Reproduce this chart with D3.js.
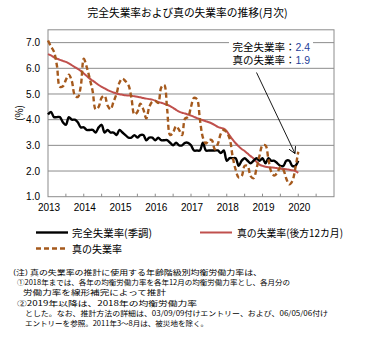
<!DOCTYPE html>
<html><head><meta charset="utf-8">
<script src="https://cdn.jsdelivr.net/npm/d3@7"></script>
<style>
html,body{margin:0;padding:0;background:#fff;}
svg{display:block;}
text{font-family:"Noto Sans CJK JP","Liberation Sans",sans-serif;}
.num{font-family:"Liberation Sans","DejaVu Sans",sans-serif;}
</style></head>
<body>
<svg id="chart" width="365" height="351"></svg>
<script>
// ---- data (monthly, Jan 2013 .. Jan 2020) ----
const startYear = 2013;
const yearLabels = ["2013","2014","2015","2016","2017","2018","2019","2020"];
const yTicks = [1.0,2.0,3.0,4.0,5.0,6.0,7.0];

const unemploymentSA = [
 4.2,4.3,4.1,4.1,4.1,3.9,3.8,4.1,4.0,4.0,3.9,3.7,
 3.7,3.6,3.6,3.6,3.5,3.7,3.8,3.5,3.6,3.5,3.5,3.4,
 3.6,3.5,3.4,3.3,3.3,3.4,3.3,3.4,3.4,3.2,3.3,3.3,
 3.2,3.3,3.2,3.2,3.2,3.1,3.0,3.1,3.0,3.0,3.1,3.1,
 3.0,2.8,2.8,2.8,3.1,2.8,2.8,2.8,2.8,2.8,2.7,2.8,
 2.4,2.5,2.5,2.5,2.2,2.4,2.5,2.4,2.3,2.4,2.5,2.4,
 2.5,2.3,2.5,2.4,2.4,2.3,2.2,2.2,2.4,2.4,2.2,2.2,
 2.4
];
const trueRate12m = [
 6.55,6.50,6.43,6.38,6.33,6.29,6.25,6.19,6.12,6.05,5.98,5.90,
 5.80,5.70,5.60,5.52,5.44,5.35,5.28,5.22,5.15,5.10,5.06,5.02,
 4.99,4.97,4.95,4.94,4.93,4.91,4.89,4.87,4.84,4.82,4.80,4.78,
 4.74,4.69,4.66,4.62,4.58,4.53,4.46,4.38,4.31,4.27,4.24,4.20,
 4.16,4.11,4.06,4.02,3.98,3.94,3.90,3.85,3.79,3.72,3.68,3.65,
 3.55,3.38,3.22,3.08,2.96,2.86,2.78,2.68,2.58,2.49,2.36,2.25,
 2.20,2.17,2.15,2.14,2.13,2.11,2.09,2.08,2.07,2.05,2.03,2.00,
 1.93
];
const trueRate = [
 7.08,6.85,6.65,6.10,5.28,5.30,5.55,5.75,5.50,4.95,4.88,5.30,
 6.37,6.05,5.60,5.10,4.40,4.50,4.85,4.93,4.55,4.40,4.70,5.00,
 5.45,5.60,5.50,5.35,4.85,4.20,4.30,4.62,4.40,4.05,4.50,4.70,
 4.73,4.65,5.25,5.35,4.40,3.40,3.50,3.75,3.60,3.40,4.05,4.10,
 4.50,4.85,4.80,4.00,3.30,3.07,3.20,3.20,2.85,3.05,3.45,3.60,
 3.50,3.25,2.55,2.05,1.75,1.80,2.20,2.20,1.80,1.72,2.10,2.60,
 3.00,3.00,2.45,1.95,1.82,1.95,2.15,2.05,1.70,1.48,1.60,2.10,
 2.75
];
const seriesNames = ["完全失業率(季調)","真の失業率(後方12カ月)","真の失業率"];
const titleText = "完全失業率および真の失業率の推移(月次)";
const annoLabels = ["完全失業率：","真の失業率："];
const annoValues = ["2.4","1.9"];
const notes = [
 "(注)  真の失業率の推計に使用する年齢階級別均衡労働力率は、",
 "①2018年までは、各年の均衡労働力率を各年12月の均衡労働力率とし、各月分の",
 "労働力率を線形補完によって推計",
 "②2019年以降は、2018年の均衡労働力率",
 "とした。なお、推計方法の詳細は、03/09/09付けエントリー、および、06/05/06付け",
 "エントリーを参照。2011年3～8月は、被災地を除く。"
];

// ---- layout ----
const svg = d3.select("#chart");
const L = 48, R = 334, T = 29.8, B = 196.7;
const x = d3.scaleLinear().domain([0, 96]).range([L, R]);
const y = d3.scaleLinear().domain([1, 7.5]).range([B, T]);

// title
svg.append("text").attr("x", 187.5).attr("y", 17).attr("text-anchor","middle")
  .attr("font-size", 11).attr("textLength", 200).attr("lengthAdjust","spacingAndGlyphs")
  .text(titleText);

// gridlines
svg.append("g").selectAll("line").data(yTicks.filter(d=>d>1)).join("line")
  .attr("x1", L).attr("x2", R).attr("y1", d=>y(d)).attr("y2", d=>y(d))
  .attr("stroke", "#8c8c8c").attr("stroke-width", 1);

// frame
svg.append("rect").attr("x", L).attr("y", T).attr("width", R-L).attr("height", B-T)
  .attr("fill","none").attr("stroke","#8c8c8c").attr("stroke-width",1);

// y axis labels
const yAxis = d3.axisLeft(y).tickValues(yTicks).tickFormat(d3.format(".1f")).tickSize(0).tickPadding(8);
const gy = svg.append("g").attr("transform", `translate(${L},0)`).call(yAxis);
gy.select(".domain").remove();
gy.selectAll("text").attr("class","num").attr("font-size", 10).attr("fill","#000");

// x axis ticks every half year, labels at year start
const xAxis = d3.axisBottom(x).tickValues(d3.range(0, 97, 6)).tickSize(0).tickFormat("");
const gx = svg.append("g").attr("transform", `translate(0,${B})`).call(xAxis);
gx.select(".domain").remove();
svg.append("g").selectAll("line").data(d3.range(6, 96, 6)).join("line")
  .attr("x1", d=>x(d)).attr("x2", d=>x(d)).attr("y1", B).attr("y2", B-3)
  .attr("stroke","#8c8c8c");
svg.append("g").selectAll("text").data(yearLabels).join("text")
  .attr("class","num").attr("font-size", 10)
  .attr("x", (d,i)=>x(i*12)+1).attr("y", 211).attr("text-anchor","middle").text(d=>d);

// y axis title
svg.append("text").attr("transform","translate(23,113) rotate(-90)")
  .attr("text-anchor","middle").attr("font-size", 10).text("(%)");

// lines
const line = d3.line().x((d,i)=>x(i)).y(d=>y(d)).curve(d3.curveCatmullRom.alpha(0.5));
svg.append("path").datum(trueRate12m).attr("d", line)
  .attr("fill","none").attr("stroke","#c0504d").attr("stroke-width",2);
svg.append("path").datum(unemploymentSA).attr("d", line)
  .attr("fill","none").attr("stroke","#000").attr("stroke-width",2.4);
svg.append("path").datum(trueRate).attr("d", line)
  .attr("fill","none").attr("stroke","#a5591c").attr("stroke-width",2.4)
  .attr("stroke-dasharray","5,3");

// annotation box
svg.append("rect").attr("x", 229).attr("y", 36).attr("width", 84).attr("height", 30).attr("fill","#fff");
annoLabels.forEach((t,i)=>{
  const tx = svg.append("text").attr("x", 232.5).attr("y", 50.5 + i*13.5).attr("font-size", 10.5);
  tx.append("tspan").text(t);
  tx.append("tspan").attr("class","num").attr("fill","#1f3f9a").text(annoValues[i]);
});
// arrow
svg.append("defs").append("marker").attr("id","arr").attr("viewBox","0 0 10 10")
  .attr("refX",9).attr("refY",5).attr("markerWidth",8).attr("markerHeight",8).attr("orient","auto")
  .append("path").attr("d","M0,0 L9,5 L0,10").attr("fill","none").attr("stroke","#000").attr("stroke-width",1.2);
svg.append("line").attr("x1",256.5).attr("y1",72.5).attr("x2",295).attr("y2",153.5)
  .attr("stroke","#000").attr("stroke-width",0.9).attr("marker-end","url(#arr)");

// legend
const leg = [
  {x:36, y:232.5, color:"#000", dash:null, w:2.4, tx:72, name:seriesNames[0], tl:80},
  {x:200, y:232.5, color:"#c0504d", dash:null, w:2, tx:237, name:seriesNames[1], tl:106},
  {x:36, y:248.5, color:"#a5591c", dash:"5,3", w:2.4, tx:72, name:seriesNames[2], tl:50}
];
leg.forEach(d=>{
  svg.append("line").attr("x1",d.x).attr("x2",d.x+32).attr("y1",d.y).attr("y2",d.y)
    .attr("stroke",d.color).attr("stroke-width",d.w).attr("stroke-dasharray",d.dash);
  svg.append("text").attr("x",d.tx).attr("y",d.y+4).attr("font-size",10.5)
    .attr("textLength",d.tl).attr("lengthAdjust","spacingAndGlyphs").text(d.name);
});

// notes
const noteX = [13,17,23,17,25,25];
const noteW = [249,273,143,180,303,183];
const noteFs = 7;
const noteStep = 10.3;
notes.forEach((t,i)=>{
  const cy = 298 + (i - 2.5) * noteStep;
  svg.append("text").attr("x",noteX[i]).attr("y",cy + 2.6).attr("font-size",noteFs)
    .attr("textLength",noteW[i]).attr("lengthAdjust","spacingAndGlyphs").text(t);
});
</script>
</body></html>
